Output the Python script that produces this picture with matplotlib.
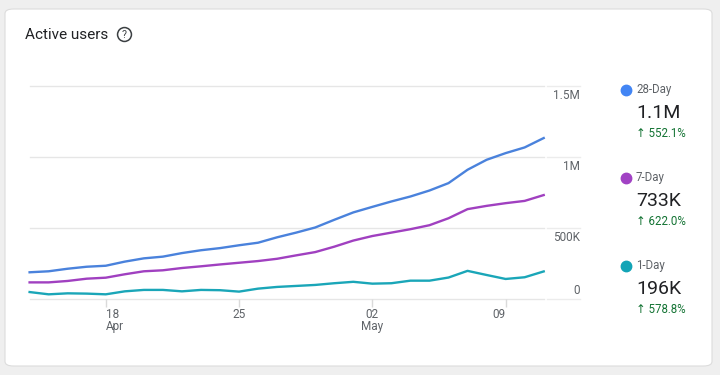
import matplotlib
matplotlib.use("Agg")
import matplotlib.pyplot as plt
import matplotlib.dates as mdates
from matplotlib.patches import FancyBboxPatch
from matplotlib.lines import Line2D
import pandas as pd

plt.rcParams['font.family'] = ['Roboto', 'DejaVu Sans']

# ---- data ----
dates = pd.date_range('2023-04-14', '2023-05-11', freq='D')
users_28day = [190, 197, 215, 229, 236, 265, 288, 300, 325, 345, 360, 380, 398, 436,
               469, 505, 559, 611, 650, 688, 723, 765, 817, 911, 981, 1028, 1068, 1134]
users_7day = [119, 119, 129, 145, 152, 176, 197, 204, 220, 232, 245, 257, 269, 285,
              309, 332, 370, 413, 445, 469, 493, 521, 570, 634, 657, 676, 692, 733]
users_1day = [51, 35, 42, 40, 35, 56, 66, 66, 56, 66, 64, 54, 75, 87,
              94, 101, 113, 123, 110, 113, 131, 131, 153, 200, 171, 143, 155, 196]
series_names = ['28-Day', '7-Day', '1-Day']
series_totals = ['1.1M', '733K', '196K']
series_changes = ['552.1%', '622.0%', '578.8%']
y_ticks = [0, 500_000, 1_000_000, 1_500_000]
y_tick_labels = ['0', '500K', '1M', '1.5M']
x_tick_dates = ['2023-04-18', '2023-04-25', '2023-05-02', '2023-05-09']
x_tick_labels = ['18\nApr', '25', '02\nMay', '09']

colors = ['#4a82dc', '#a040c0', '#1aa6b8']
dot_colors = ['#4285f4', '#a142c4', '#12a4b6']

W, H = 720, 375
fig = plt.figure(figsize=(W / 100, H / 100), dpi=100)
fig.patch.set_facecolor('#efefef')

def fx(px):
    return px / W

def fy(py):
    return 1 - py / H

# card
card = FancyBboxPatch((fx(5), fy(366)), fx(707), 357 / H,
                      boxstyle="round,pad=0,rounding_size=0.012",
                      transform=fig.transFigure, facecolor='white',
                      edgecolor='#dcdcdc', linewidth=0.8, zorder=0)
fig.add_artist(card)

# axes
left_px, right_px = 29.6, 543.7
top_px, bot_px = 86.0, 299.3
ax = fig.add_axes([fx(left_px), fy(bot_px), fx(right_px - left_px), (bot_px - top_px) / H])
ax.set_facecolor('none')
for s in ax.spines.values():
    s.set_visible(False)

ax.set_xlim(dates[0], dates[-1])
ax.set_ylim(0, 1_500_000)

# gridlines
for yv in y_ticks:
    ax.axhline(yv, color='#e6e6e6', linewidth=1.0, zorder=1, clip_on=False)
    ax.plot([1.006, 1.07], [yv / 1_500_000] * 2, transform=ax.transAxes,
            color='#ececec', linewidth=1.0, clip_on=False, zorder=1)

vals = [users_28day, users_7day, users_1day]
for v, c in zip(vals, colors):
    ax.plot(dates, [x * 1000 for x in v], color=c, linewidth=1.7, clip_on=False,
            zorder=3, solid_joinstyle='round')

# y labels (right side)
for yv, lab in zip(y_ticks, y_tick_labels):
    py = bot_px - (bot_px - top_px) * yv / 1_500_000
    if yv == 0:
        ty = py - 9
    else:
        ty = py + 9
    fig.text(fx(580), fy(ty), lab, ha='right', va='center', fontsize=8.5,
             color='#5f6368')

# x ticks
ax.set_yticks([])
xt = pd.to_datetime(x_tick_dates)
ax.set_xticks(xt)
labs = ax.set_xticklabels(x_tick_labels, fontsize=8.5, color='#5f6368', linespacing=0.9)
ax.tick_params(axis='x', length=6, color='#dadada', width=1, pad=0.5)
labs[0].set_ha('left')
labs[3].set_ha('right')

# title
fig.text(fx(25), fy(35), 'Active users', ha='left', va='center', fontsize=11,
         color='#202124')
fig.add_artist(Line2D([fx(124)], [fy(34)], marker='o', markersize=10,
                      markerfacecolor='none', markeredgecolor='#3c4043',
                      markeredgewidth=1.1, transform=fig.transFigure))
fig.text(fx(124), fy(34.5), '?', ha='center', va='center', fontsize=7.5,
         color='#3c4043')

# legend / summary
dot_y = [90, 178, 266]
for name, tot, chg, dc, dy in zip(series_names, series_totals, series_changes, dot_colors, dot_y):
    fig.add_artist(Line2D([fx(626)], [fy(dy)], marker='o', markersize=7.5,
                          markerfacecolor=dc, markeredgecolor=dc,
                          transform=fig.transFigure))
    fig.text(fx(636), fy(dy), name, ha='left', va='center', fontsize=8.3,
             color='#5f6368')
    fig.text(fx(636), fy(dy + 23.5), tot, ha='left', va='center', fontsize=14,
             color='#202124')
    fig.text(fx(636), fy(dy + 43.5), '\u2191 ' + chg, ha='left', va='center',
             fontsize=8.3, color='#137333')

fig.savefig('out.png', dpi=100, facecolor=fig.get_facecolor())
